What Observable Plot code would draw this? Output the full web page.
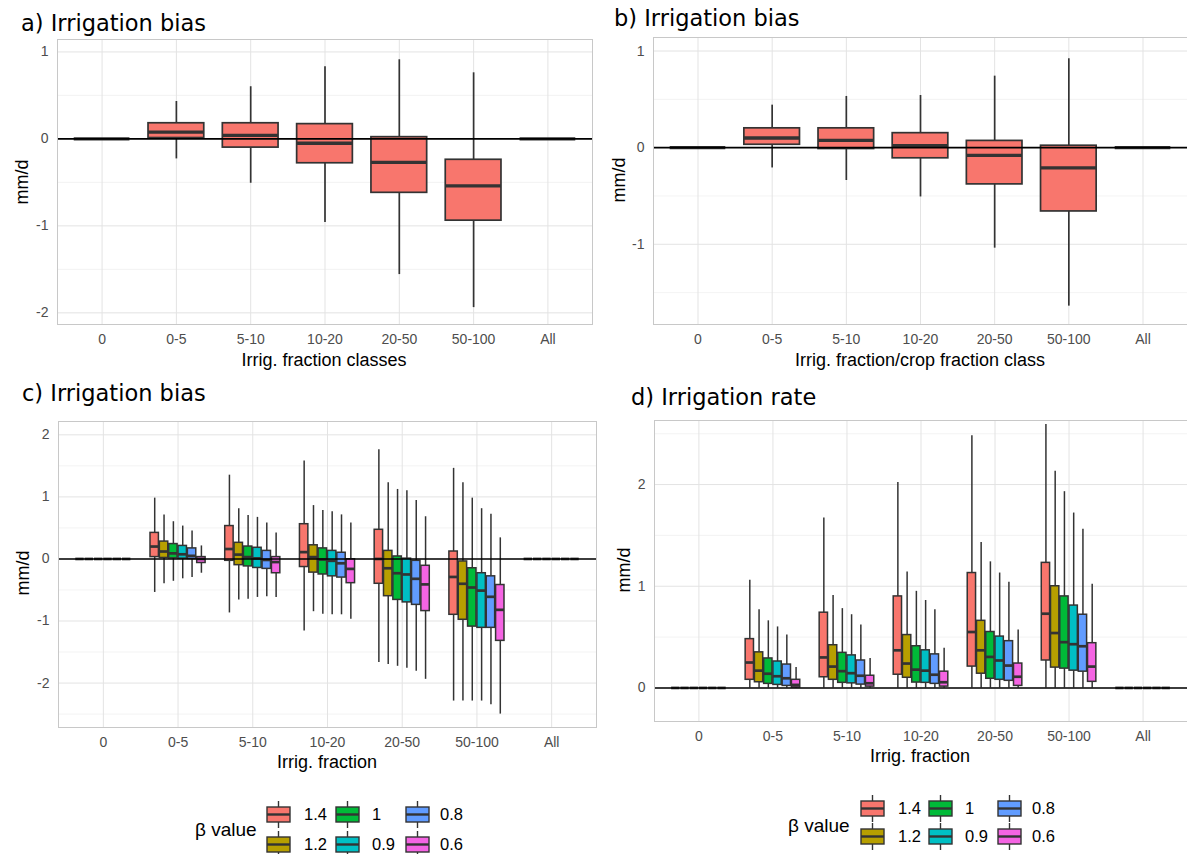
<!DOCTYPE html>
<html>
<head>
<meta charset="utf-8">
<script src="https://cdn.jsdelivr.net/npm/d3@7"></script>
<script src="https://cdn.jsdelivr.net/npm/@observablehq/plot@0.6"></script>
<style>
  html, body { margin: 0; padding: 0; background: #fff; }
  #root { position: relative; width: 1187px; height: 854px; overflow: hidden; font-family: "Liberation Sans", Arial, sans-serif; }
  .panel { position: absolute; }
  .title { position: absolute; font-family: "DejaVu Sans", sans-serif; font-size: 22.5px; line-height: 26px; color: #000; white-space: nowrap; }
  .xlab { position: absolute; font-size: 18px; color: #000; transform: translate(-50%, -50%); white-space: nowrap; }
  .ylab { position: absolute; font-size: 18px; color: #000; transform: translate(-50%, -50%) rotate(-90deg); white-space: nowrap; }
</style>
</head>
<body>
<div id="root"></div>
<script>
// ---------------- DATA ----------------
const categories = ["0", "0-5", "5-10", "10-20", "20-50", "50-100", "All"];
const betas = ["1.4", "1.2", "1", "0.9", "0.8", "0.6"];
const betaColors = ["#F8766D", "#B79F00", "#00BA38", "#00BFC4", "#619CFF", "#F564E3"];

// Panel a: one box per class
const aLow  = [0, -0.23, -0.51, -0.96, -1.56, -1.94, 0];
const aQ1   = [0,  0.01, -0.10, -0.28, -0.62, -0.94, 0];
const aMed  = [0,  0.077, 0.04, -0.05, -0.27, -0.54, 0];
const aQ3   = [0,  0.18,  0.18,  0.17,  0.02, -0.24, 0];
const aHigh = [0,  0.43,  0.60,  0.83,  0.91,  0.76, 0];

// Panel b
const bLow  = [0, -0.21, -0.34, -0.51, -1.04, -1.64, 0];
const bQ1   = [0,  0.03, -0.014, -0.11, -0.38, -0.66, 0];
const bMed  = [0,  0.10,  0.076,  0.02, -0.08, -0.21, 0];
const bQ3   = [0,  0.20,  0.20,  0.15,  0.07,  0.02, 0];
const bHigh = [0,  0.44,  0.53,  0.54,  0.74,  0.92, 0];

// Panel c: rows = classes, columns = beta values (1.4, 1.2, 1, 0.9, 0.8, 0.6)
const cHigh = [
  [0, 0, 0, 0, 0, 0],
  [0.98, 0.71, 0.60, 0.53, 0.45, 0.21],
  [1.35, 0.81, 0.70, 0.67, 0.58, 0.42],
  [1.58, 0.86, 0.78, 0.76, 0.71, 0.58],
  [1.76, 1.23, 1.12, 1.10, 0.94, 0.68],
  [1.46, 1.23, 0.98, 0.81, 0.72, 0.34],
  [0, 0, 0, 0, 0, 0]
];
const cQ3 = [
  [0, 0, 0, 0, 0, 0],
  [0.42, 0.28, 0.24, 0.21, 0.17, 0.03],
  [0.53, 0.26, 0.20, 0.18, 0.13, 0.03],
  [0.56, 0.22, 0.17, 0.13, 0.10, -0.005],
  [0.47, 0.13, 0.04, 0.005, -0.03, -0.11],
  [0.12, -0.04, -0.15, -0.23, -0.28, -0.42],
  [0, 0, 0, 0, 0, 0]
];
const cMed = [
  [0, 0, 0, 0, 0, 0],
  [0.20, 0.12, 0.09, 0.075, 0.05, 0.0],
  [0.16, 0.07, 0.03, 0.01, -0.016, -0.05],
  [0.11, 0.03, -0.01, -0.03, -0.07, -0.16],
  [0.0, -0.15, -0.23, -0.25, -0.32, -0.41],
  [-0.29, -0.40, -0.46, -0.51, -0.61, -0.82],
  [0, 0, 0, 0, 0, 0]
];
const cQ1 = [
  [0, 0, 0, 0, 0, 0],
  [0.03, 0.016, 0.01, 0.005, 0.0, -0.065],
  [-0.03, -0.10, -0.12, -0.145, -0.16, -0.23],
  [-0.13, -0.22, -0.25, -0.28, -0.30, -0.39],
  [-0.40, -0.60, -0.66, -0.70, -0.74, -0.84],
  [-0.90, -0.98, -1.09, -1.11, -1.11, -1.32],
  [0, 0, 0, 0, 0, 0]
];
const cLow = [
  [0, 0, 0, 0, 0, 0],
  [-0.54, -0.40, -0.36, -0.32, -0.30, -0.23],
  [-0.87, -0.66, -0.65, -0.62, -0.61, -0.62],
  [-1.16, -0.85, -0.89, -0.90, -0.90, -0.97],
  [-1.67, -1.70, -1.73, -1.76, -1.81, -1.94],
  [-2.29, -2.29, -2.29, -2.29, -2.35, -2.50],
  [0, 0, 0, 0, 0, 0]
];

// Panel d
const dHigh = [
  [0, 0, 0, 0, 0, 0],
  [1.06, 0.77, 0.66, 0.60, 0.52, 0.20],
  [1.67, 0.91, 0.78, 0.72, 0.62, 0.29],
  [2.02, 1.14, 0.95, 0.86, 0.77, 0.39],
  [2.48, 1.43, 1.24, 1.13, 1.04, 0.57],
  [2.59, 2.13, 1.93, 1.72, 1.56, 1.02],
  [0, 0, 0, 0, 0, 0]
];
const dQ3 = [
  [0, 0, 0, 0, 0, 0],
  [0.48, 0.35, 0.29, 0.26, 0.23, 0.08],
  [0.74, 0.42, 0.345, 0.32, 0.27, 0.12],
  [0.90, 0.52, 0.41, 0.37, 0.33, 0.16],
  [1.13, 0.66, 0.55, 0.505, 0.46, 0.24],
  [1.23, 1.00, 0.90, 0.81, 0.72, 0.44],
  [0, 0, 0, 0, 0, 0]
];
const dMed = [
  [0, 0, 0, 0, 0, 0],
  [0.25, 0.17, 0.14, 0.115, 0.095, 0.03],
  [0.30, 0.21, 0.165, 0.145, 0.12, 0.046],
  [0.37, 0.24, 0.18, 0.17, 0.13, 0.056],
  [0.55, 0.37, 0.305, 0.27, 0.22, 0.11],
  [0.73, 0.54, 0.45, 0.43, 0.41, 0.21],
  [0, 0, 0, 0, 0, 0]
];
const dQ1 = [
  [0, 0, 0, 0, 0, 0],
  [0.08, 0.056, 0.04, 0.03, 0.02, 0.005],
  [0.105, 0.08, 0.05, 0.045, 0.033, 0.013],
  [0.13, 0.10, 0.053, 0.05, 0.04, 0.013],
  [0.21, 0.14, 0.09, 0.08, 0.07, 0.02],
  [0.27, 0.20, 0.19, 0.17, 0.16, 0.06],
  [0, 0, 0, 0, 0, 0]
];
const dLow = [
  [0, 0, 0, 0, 0, 0],
  [0, 0, 0, 0, 0, 0],
  [0, 0, 0, 0, 0, 0],
  [0, 0, 0, 0, 0, 0],
  [0, 0, 0, 0, 0, 0],
  [0, 0, 0, 0, 0, 0],
  [0, 0, 0, 0, 0, 0]
];

// ---------------- BUILD ----------------
const root = document.getElementById("root");

function singleRows(lo, q1, med, q3, hi) {
  return categories.map((c, i) => ({i, beta: betas[0], x: i, lo: lo[i], q1: q1[i], med: med[i], q3: q3[i], hi: hi[i]}));
}
const dodgeW = 0.75 / betas.length;
function dodgeRows(lo, q1, med, q3, hi) {
  const rows = [];
  categories.forEach((c, i) => {
    betas.forEach((b, j) => {
      rows.push({i, beta: b, x: i + (j - (betas.length - 1) / 2) * dodgeW,
        lo: lo[i][j], q1: q1[i][j], med: med[i][j], q3: q3[i][j], hi: hi[i][j]});
    });
  });
  return rows;
}

function panel(opts) {
  const {left, top, width, height, mt, mr, mb, ml, rows, yDomain, majors, minors, boxW, boxStroke, medStroke} = opts;
  const chart = Plot.plot({
    width, height,
    marginTop: mt, marginRight: mr, marginBottom: mb, marginLeft: ml,
    style: {fontFamily: "Liberation Sans, Arial, sans-serif", fontSize: "14px", color: "#4D4D4D", background: "transparent", overflow: "visible"},
    x: {domain: [-0.6, categories.length - 0.4]},
    y: {domain: yDomain},
    color: {domain: betas, range: betaColors},
    marks: [
      Plot.gridY(minors, {stroke: "#F0F0F0", strokeOpacity: 1, strokeWidth: 0.8}),
      Plot.gridY(majors, {stroke: "#E3E3E3", strokeOpacity: 1, strokeWidth: 1}),
      Plot.gridX(d3.range(categories.length), {stroke: "#E3E3E3", strokeOpacity: 1, strokeWidth: 1}),
      Plot.ruleX(rows, {x: "x", y1: "lo", y2: "q1", stroke: "#333333", strokeWidth: boxStroke}),
      Plot.ruleX(rows, {x: "x", y1: "q3", y2: "hi", stroke: "#333333", strokeWidth: boxStroke}),
      Plot.rect(rows, {x1: d => d.x - boxW / 2, x2: d => d.x + boxW / 2, y1: "q1", y2: "q3", fill: "beta", stroke: "#333333", strokeWidth: boxStroke}),
      Plot.ruleY(rows, {y: "med", x1: d => d.x - boxW / 2, x2: d => d.x + boxW / 2, stroke: "#333333", strokeWidth: medStroke}),
      Plot.ruleY([0], {stroke: "#000000", strokeWidth: 1.6}),
      Plot.frame({stroke: "#C8C8C8", strokeWidth: 1}),
      Plot.axisX(d3.range(categories.length), {tickSize: 0, tickPadding: 10, tickFormat: i => categories[i], label: null, fill: "#4D4D4D"}),
      Plot.axisY(majors, {tickSize: 0, tickPadding: 9, tickFormat: d => String(d), label: null, fill: "#4D4D4D"})
    ]
  });
  const div = document.createElement("div");
  div.className = "panel";
  div.style.left = left + "px";
  div.style.top = top + "px";
  div.appendChild(chart);
  root.appendChild(div);
}

function addText(cls, text, x, y) {
  const d = document.createElement("div");
  d.className = cls;
  d.textContent = text;
  d.style.left = x + "px";
  d.style.top = y + "px";
  root.appendChild(d);
}

// Panel a
panel({left: 0, top: 0, width: 600, height: 352, mt: 39, mr: 8, mb: 28, ml: 57,
  rows: singleRows(aLow, aQ1, aMed, aQ3, aHigh), yDomain: [-2.134, 1.143],
  majors: [-2, -1, 0, 1], minors: [-1.5, -0.5, 0.5], boxW: 0.75, boxStroke: 1.7, medStroke: 3.3});
// Panel b
panel({left: 595, top: 0, width: 592, height: 352, mt: 37, mr: 0, mb: 28, ml: 58,
  rows: singleRows(bLow, bQ1, bMed, bQ3, bHigh), yDomain: [-1.83, 1.14],
  majors: [-1, 0, 1], minors: [-1.5, -0.5, 0.5], boxW: 0.75, boxStroke: 1.7, medStroke: 3.3});
// Panel c
panel({left: 0, top: 380, width: 600, height: 375, mt: 41, mr: 4, mb: 28, ml: 58,
  rows: dodgeRows(cLow, cQ1, cMed, cQ3, cHigh), yDomain: [-2.716, 2.215],
  majors: [-2, -1, 0, 1, 2], minors: [-2.5, -1.5, -0.5, 0.5, 1.5], boxW: dodgeW * 0.9, boxStroke: 1.5, medStroke: 2.7});
// Panel d
panel({left: 595, top: 380, width: 592, height: 369, mt: 40, mr: 0, mb: 28, ml: 59,
  rows: dodgeRows(dLow, dQ1, dMed, dQ3, dHigh), yDomain: [-0.33, 2.63],
  majors: [0, 1, 2], minors: [0.5, 1.5, 2.5], boxW: dodgeW * 0.9, boxStroke: 1.5, medStroke: 2.7});

// Titles
addText("title", "a) Irrigation bias", 21, 10);
addText("title", "b) Irrigation bias", 614, 5);
addText("title", "c) Irrigation bias", 22, 380);
addText("title", "d) Irrigation rate", 631, 384);

// Axis titles
addText("xlab", "Irrig. fraction classes", 324, 360);
addText("xlab", "Irrig. fraction/crop fraction class", 920, 360);
addText("xlab", "Irrig. fraction", 327, 762);
addText("xlab", "Irrig. fraction", 920, 756);
addText("ylab", "mm/d", 22, 182);
addText("ylab", "mm/d", 619, 180);
addText("ylab", "mm/d", 23, 573);
addText("ylab", "mm/d", 624, 570);

// Legends
function legend(left, top, keyX, rowY, labX, titleX, titleY) {
  const ns = "http://www.w3.org/2000/svg";
  const svg = document.createElementNS(ns, "svg");
  svg.setAttribute("width", 320);
  svg.setAttribute("height", 80);
  svg.style.position = "absolute";
  svg.style.left = left + "px";
  svg.style.top = top + "px";
  svg.style.overflow = "visible";
  svg.style.fontFamily = "Liberation Sans, Arial, sans-serif";
  const t = document.createElementNS(ns, "text");
  t.setAttribute("x", titleX); t.setAttribute("y", titleY);
  t.setAttribute("dy", "0.35em"); t.setAttribute("font-size", 19); t.setAttribute("fill", "#000");
  t.textContent = "β value";
  svg.appendChild(t);
  const kw = 23, kh = 15;
  betas.forEach((b, j) => {
    const col = Math.floor(j / 2), row = j % 2;
    const x = keyX[col], y = rowY[row];
    const cx = x + kw / 2;
    const mk = (tag, attrs) => { const e = document.createElementNS(ns, tag); for (const k in attrs) e.setAttribute(k, attrs[k]); svg.appendChild(e); return e; };
    mk("line", {x1: cx, x2: cx, y1: y - 6, y2: y, stroke: "#333", "stroke-width": 1.4});
    mk("line", {x1: cx, x2: cx, y1: y + kh, y2: y + kh + 6, stroke: "#333", "stroke-width": 1.4});
    mk("rect", {x, y, width: kw, height: kh, fill: betaColors[j], stroke: "#333", "stroke-width": 1.4});
    mk("line", {x1: x, x2: x + kw, y1: y + kh / 2, y2: y + kh / 2, stroke: "#333", "stroke-width": 2.4});
    const lt = mk("text", {x: labX[col], y: y + kh / 2, dy: "0.35em", "font-size": 16.5, fill: "#000"});
    lt.textContent = b;
  });
  root.appendChild(svg);
}
legend(180, 780, [87, 156, 226], [27, 57], [124, 192, 260], 15, 49);
legend(770, 780, [91, 159, 228], [21, 49], [128, 195, 262], 18, 45);
</script>
</body>
</html>
